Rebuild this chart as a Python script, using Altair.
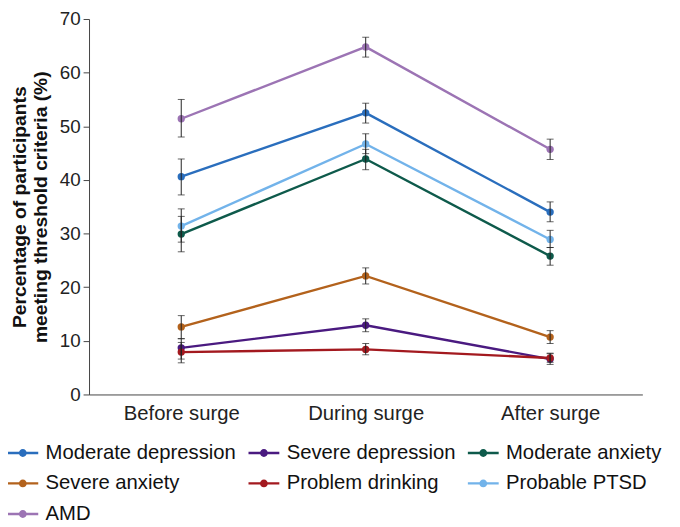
import altair as alt
import pandas as pd

phases = ["Before surge", "During surge", "After surge"]
series = ["Moderate depression", "Severe depression", "Moderate anxiety",
          "Severe anxiety", "Problem drinking", "Probable PTSD", "AMD"]
colors = ["#2a6ebd", "#4a1a80", "#0e5a4b", "#b3621c", "#a3191f", "#72b3ea", "#9c74b4"]

values = {
    "Moderate depression": [40.6, 52.5, 34.0],
    "Severe depression":   [8.7, 12.9, 6.6],
    "Moderate anxiety":    [29.9, 43.9, 25.8],
    "Severe anxiety":      [12.6, 22.1, 10.7],
    "Problem drinking":    [7.9, 8.4, 6.8],
    "Probable PTSD":       [31.4, 46.7, 28.9],
    "AMD":                 [51.4, 64.8, 45.7],
}
lower = {
    "Moderate depression": [37.2, 50.6, 32.2],
    "Severe depression":   [6.6, 11.7, 5.6],
    "Moderate anxiety":    [26.6, 41.9, 24.1],
    "Severe anxiety":      [10.4, 20.6, 9.5],
    "Problem drinking":    [5.9, 7.4, 6.0],
    "Probable PTSD":       [28.4, 44.9, 27.4],
    "AMD":                 [48.0, 62.9, 43.8],
}
upper = {
    "Moderate depression": [43.9, 54.3, 35.9],
    "Severe depression":   [10.4, 14.1, 7.7],
    "Moderate anxiety":    [33.2, 45.7, 27.4],
    "Severe anxiety":      [14.7, 23.6, 11.9],
    "Problem drinking":    [9.7, 9.5, 7.6],
    "Probable PTSD":       [34.6, 48.6, 30.6],
    "AMD":                 [55.0, 66.6, 47.6],
}

rows = []
for s in series:
    for i, p in enumerate(phases):
        rows.append({"phase": p, "series": s, "value": values[s][i],
                     "lo": lower[s][i], "hi": upper[s][i]})
df = pd.DataFrame(rows)

FONT = "Liberation Sans"
Y_TITLE = ["Percentage of participants", "meeting threshold criteria (%)"]

x_axis = alt.Axis(ticks=False, labelAngle=0, labelFontSize=20.5,
                  labelColor="#222222", labelPadding=9,
                  domainColor="#444444", labelFont=FONT)
y_axis = alt.Axis(values=[0, 10, 20, 30, 40, 50, 60, 70], grid=False,
                  labelFontSize=19, labelColor="#222222", labelFont=FONT,
                  titleFont=FONT, titleFontSize=19.5, titleFontWeight="bold",
                  titleLineHeight=21.5,
                  titleColor="#111111", tickSize=6, tickColor="#444444",
                  domainColor="#444444", titlePadding=9, labelPadding=3)

x_enc = alt.X("phase:N", sort=phases, title=None,
              scale=alt.Scale(type="point", padding=0.5), axis=x_axis)
y_scale = alt.Scale(domain=[0, 70], nice=False)
color_enc = alt.Color("series:N", sort=series,
                      scale=alt.Scale(domain=series, range=colors),
                      legend=alt.Legend(
                          title=None, orient="none", legendX=-79, legendY=427,
                          columns=3, direction="horizontal",
                          symbolType="M-1.3,-0.1L1.3,-0.1L1.3,0.1L-1.3,0.1Z M-0.33,0A0.33,0.33 0 1,1 0.33,0A0.33,0.33 0 1,1 -0.33,0Z",
                          symbolSize=576, symbolStrokeWidth=0,
                          labelFontSize=20.5, labelFont=FONT, labelColor="#111111",
                          labelOffset=11, columnPadding=12, rowPadding=8,
                          labelLimit=300))

base = alt.Chart(df)

err = base.mark_errorbar(ticks=alt.MarkConfig(size=7), color="#222222", thickness=1).encode(
    x=x_enc,
    y=alt.Y("lo:Q", scale=y_scale, title=Y_TITLE, axis=y_axis),
    y2="hi:Q",
    detail="series:N",
)

lines = base.mark_line(strokeWidth=2.4).encode(
    x=x_enc,
    y=alt.Y("value:Q", scale=y_scale, title=Y_TITLE, axis=y_axis),
    color=color_enc,
)

points = base.mark_point(filled=True, size=55, opacity=1).encode(
    x=x_enc,
    y=alt.Y("value:Q", scale=y_scale, title=Y_TITLE, axis=y_axis),
    color=color_enc,
)

chart = alt.layer(lines, points, err).properties(
    width=560, height=380,
    autosize=alt.AutoSizeParams(type="none"),
    padding={"left": 82, "top": 8, "right": 30, "bottom": 131},
).configure_view(stroke=None).configure_axis(grid=False)

chart.save("out.html", embed_options={"renderer": "svg", "actions": False})
